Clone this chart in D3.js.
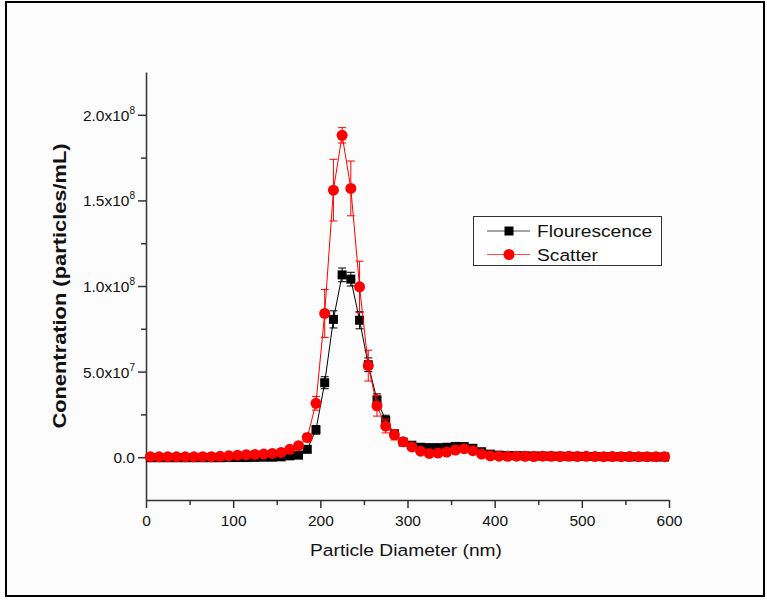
<!DOCTYPE html>
<html>
<head>
<meta charset="utf-8">
<script src="https://cdn.jsdelivr.net/npm/d3@7"></script>
<style>
  html, body { margin: 0; padding: 0; background: #fff; }
  svg { display: block; }
  text { font-family: Arial, "Liberation Sans", sans-serif; fill: #111; }
</style>
</head>
<body>
<svg id="chart" width="767" height="600"></svg>
<script>
// Particle diameter (nm)
const diameter = [5,15,25,35,45,55,65,75,85,95,105,115,125,135,145,155,165,175,185,195,
  205,215,225,235,245,255,265,275,285,295,305,315,325,335,345,355,365,375,385,395,
  405,415,425,435,445,455,465,475,485,495,505,515,525,535,545,555,565,575,585,595];

// Concentration, in 1e6 particles/mL
const fluorescence = [-0.3,-0.3,-0.3,-0.3,-0.3,-0.3,-0.3,-0.3,-0.3,-0.2,-0.2,-0.2,-0.1,0,0,0.2,0.8,1.2,4.6,16,
  43.5,80.5,106.5,104,80,54,33.5,21.5,13.7,8.8,7,5.8,5.6,5.6,5.8,6.3,6.2,5.2,3.2,1.8,
  1.2,1.0,0.9,0.8,0.7,0.7,0.6,0.6,0.5,0.5,0.4,0.4,0.3,0.3,0.3,0.2,0.2,0.2,0.1,0.1];
const fluorescenceErr = [0.3,0.3,0.3,0.3,0.3,0.3,0.3,0.3,0.3,0.3,0.3,0.3,0.3,0.3,0.3,0.4,0.5,0.6,1.5,2.5,
  3.5,5,4,4,5,4,3.5,3,2,1.5,1.5,1.2,1,1,1,1,1,1,0.8,0.8,
  0.6,0.6,0.5,0.5,0.5,0.5,0.5,0.5,0.5,0.5,0.4,0.4,0.4,0.4,0.4,0.4,0.4,0.4,0.4,0.4];

const scatter = [0.2,0.2,0.2,0.2,0.2,0.2,0.3,0.3,0.5,0.8,1.2,1.5,1.6,1.8,2.2,2.8,4.6,6.7,11.5,31.5,
  84,156,188,157,99.5,53.5,30,18.2,13.1,9,6,3.5,2.2,2.4,3,4.2,5,3.8,1.8,0.8,
  0.6,0.5,0.6,0.5,0.4,0.6,0.5,0.4,0.5,0.4,0.5,0.4,0.3,0.4,0.3,0.4,0.3,0.3,0.3,0.3];
const scatterErr = [0.3,0.3,0.3,0.3,0.3,0.3,0.3,0.3,0.3,0.4,0.4,0.4,0.4,0.4,0.5,0.6,0.8,1,2,4,
  14,18,4.5,16,15,9,6,4,3,2,1.5,1,1,1,1,1,1,1,0.8,0.6,
  0.5,0.5,0.5,0.5,0.5,0.5,0.5,0.5,0.5,0.5,0.4,0.4,0.4,0.4,0.4,0.4,0.4,0.4,0.4,0.4];

const xMajorTicks = [0,100,200,300,400,500,600];
const xMinorTicks = [50,150,250,350,450,550];
const yMajorTicks = [0,5e7,1e8,1.5e8,2e8];
const yTickLabels = ["0.0","5.0x10|7","1.0x10|8","1.5x10|8","2.0x10|8"];
const yMinorTicks = [2.5e7,7.5e7,1.25e8,1.75e8];
const seriesNames = ["Flourescence","Scatter"];
const seriesColors = ["#000000","#ff0000"];

const svg = d3.select("#chart");
svg.append("rect").attr("x",0).attr("y",0).attr("width",767).attr("height",600).attr("fill","#fcfcfc");
svg.append("rect").attr("x",6).attr("y",2).attr("width",758).attr("height",594)
  .attr("fill","none").attr("stroke","#000").attr("stroke-width",2);

const x = d3.scaleLinear().domain([0,600]).range([146,669]);
const y = d3.scaleLinear().domain([-25e6,225e6]).range([500,72]);

// axes
const axisColor = "#333";
const gx = svg.append("g").attr("transform","translate(0,500)")
  .call(d3.axisBottom(x).tickValues(xMajorTicks).tickSize(8).tickSizeOuter(0).tickPadding(4).tickFormat(d3.format("d")));
const gxm = svg.append("g").attr("transform","translate(0,500)")
  .call(d3.axisBottom(x).tickValues(xMinorTicks).tickSize(5).tickSizeOuter(0).tickFormat(""));
gxm.select(".domain").remove();
const gy = svg.append("g").attr("transform","translate(146,0)")
  .call(d3.axisLeft(y).tickValues(yMajorTicks).tickSize(8).tickSizeOuter(0).tickPadding(4).tickFormat(""));
const gym = svg.append("g").attr("transform","translate(146,0)")
  .call(d3.axisLeft(y).tickValues(yMinorTicks).tickSize(5).tickSizeOuter(0).tickFormat(""));
gym.select(".domain").remove();
[gx,gxm,gy,gym].forEach(g => {
  g.selectAll("path,line").attr("stroke",axisColor).attr("stroke-width",1.5);
});
gx.selectAll("text").attr("font-size",15.5).attr("fill","#111").attr("font-family","Arial, 'Liberation Sans', sans-serif").attr("dy","0.9em");

// y tick labels with superscript
gy.selectAll(".tick").each(function(d,i){
  const parts = yTickLabels[i].split("|");
  const t = d3.select(this).append("text")
    .attr("x",-11).attr("y",5.5).attr("text-anchor","end")
    .attr("font-size",15.5).attr("fill","#111");
  t.append("tspan").text(parts[0]);
  if (parts[1]) {
    t.append("tspan").attr("font-size",10).attr("dy",-7).text(parts[1]);
  }
});

// titles
svg.append("text").attr("transform","translate(406,556) scale(1.13,1)")
  .attr("text-anchor","middle").attr("font-size",17).text("Particle Diameter (nm)");
svg.append("text").attr("transform","translate(66,286) rotate(-90) scale(1.15,1)")
  .attr("text-anchor","middle").attr("font-size",19).attr("font-weight","bold").text("Conentration (particles/mL)");

// series
const series = [
  {name: seriesNames[0], vals: fluorescence, errs: fluorescenceErr, color: seriesColors[0], shape: "square"},
  {name: seriesNames[1], vals: scatter, errs: scatterErr, color: seriesColors[1], shape: "circle"}
];
const line = d3.line().x(d => x(d[0])).y(d => y(d[1]*1e6));

series.forEach(s => {
  const pts = diameter.map((dv,i) => [dv, s.vals[i], s.errs[i]]);
  const g = svg.append("g");
  g.append("path").datum(pts).attr("d",line).attr("fill","none").attr("stroke",s.color).attr("stroke-width",1);
  // error bars
  const eb = g.selectAll(".eb").data(pts).enter().append("g");
  eb.append("line").attr("x1",d=>x(d[0])).attr("x2",d=>x(d[0]))
    .attr("y1",d=>y((d[1]+d[2])*1e6)).attr("y2",d=>y((d[1]-d[2])*1e6))
    .attr("stroke",s.color).attr("stroke-width",1);
  eb.append("line").attr("x1",d=>x(d[0])-4).attr("x2",d=>x(d[0])+4)
    .attr("y1",d=>y((d[1]+d[2])*1e6)).attr("y2",d=>y((d[1]+d[2])*1e6))
    .attr("stroke",s.color).attr("stroke-width",1);
  eb.append("line").attr("x1",d=>x(d[0])-4).attr("x2",d=>x(d[0])+4)
    .attr("y1",d=>y((d[1]-d[2])*1e6)).attr("y2",d=>y((d[1]-d[2])*1e6))
    .attr("stroke",s.color).attr("stroke-width",1);
  if (s.shape === "square") {
    g.selectAll(".m").data(pts).enter().append("rect")
      .attr("x",d=>x(d[0])-4.5).attr("y",d=>y(d[1]*1e6)-4.5).attr("width",9).attr("height",9)
      .attr("fill",s.color);
  } else {
    g.selectAll(".m").data(pts).enter().append("circle")
      .attr("cx",d=>x(d[0])).attr("cy",d=>y(d[1]*1e6)).attr("r",5.5)
      .attr("fill",s.color);
  }
});

// legend
const lg = svg.append("g");
lg.append("rect").attr("x",473.5).attr("y",216.5).attr("width",188).attr("height",49)
  .attr("fill","#fff").attr("stroke","#333").attr("stroke-width",1);
series.forEach((s,i) => {
  const yy = 231 + i*23.5;
  lg.append("line").attr("x1",487).attr("x2",530).attr("y1",yy).attr("y2",yy)
    .attr("stroke",s.color).attr("stroke-width",1).attr("opacity",0.7);
  if (s.shape === "square") {
    lg.append("rect").attr("x",509-4.5).attr("y",yy-4.5).attr("width",9).attr("height",9).attr("fill",s.color);
  } else {
    lg.append("circle").attr("cx",509).attr("cy",yy).attr("r",5.5).attr("fill",s.color);
  }
  lg.append("text").attr("transform",`translate(537,${yy+6}) scale(1.13,1)`)
    .attr("font-size",17).text(s.name);
});
</script>
</body>
</html>
